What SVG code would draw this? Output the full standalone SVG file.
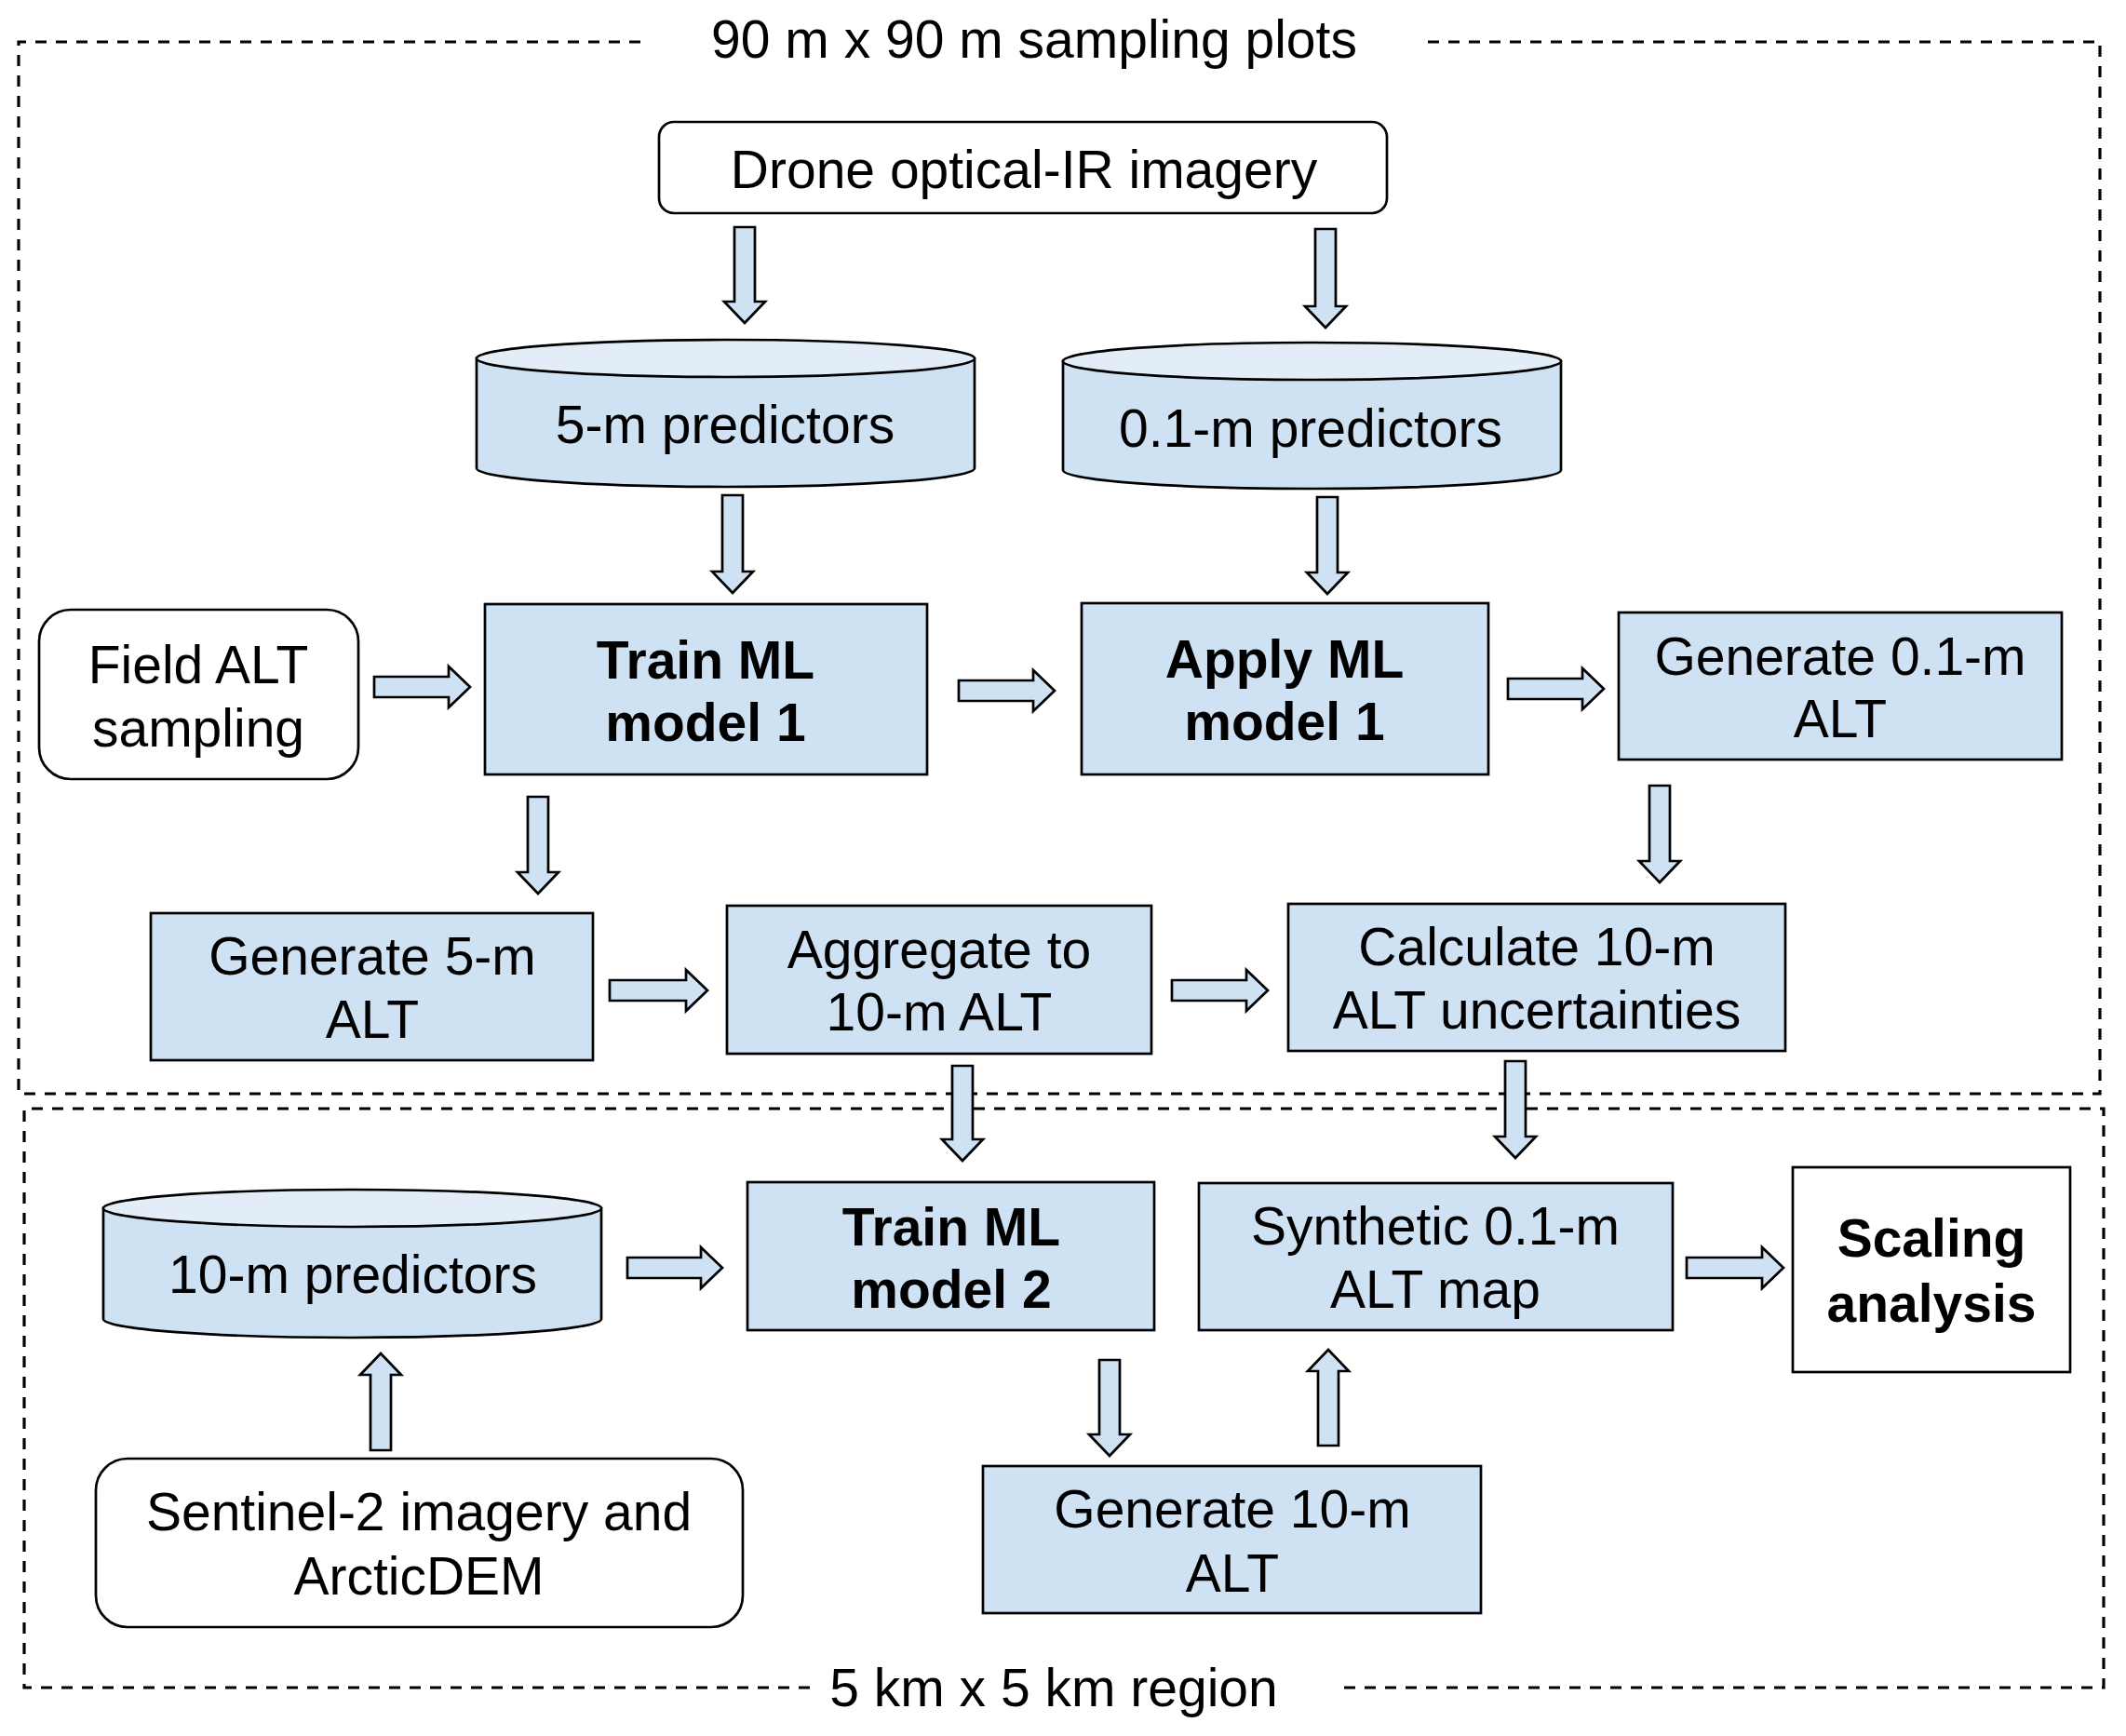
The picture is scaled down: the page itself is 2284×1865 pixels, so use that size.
<svg xmlns="http://www.w3.org/2000/svg" width="2284" height="1865" viewBox="0 0 2284 1865">
<style>
text{font-family:"Liberation Sans",Arial,sans-serif;font-size:57px;fill:#000;text-anchor:middle}
.b{font-weight:bold}
.box{fill:#cfe2f3;stroke:#000;stroke-width:2.7}
.wbox{fill:#fff;stroke:#000;stroke-width:2.7}
.top{fill:#e2edf8;stroke:#000;stroke-width:2.7}
.arr{fill:#cfe2f3;stroke:#000;stroke-width:2.7;stroke-linejoin:miter}
.dash{fill:none;stroke:#000;stroke-width:3.2;stroke-dasharray:12 10}
</style>
<rect width="2284" height="1865" fill="#fff"/>
<g id="regions">
<path class="dash" d="M688,45 L20,45 L20,1175 L2256,1175 L2256,45 L1530,45"/>
<path class="dash" d="M870,1813 L26,1813 L26,1191 L2260,1191 L2260,1813 L1437,1813"/>
<text x="1111" y="62">90 m x 90 m sampling plots</text>
<text x="1132" y="1833">5 km x 5 km region</text>
</g>
<g id="drone">
<rect class="wbox" x="708" y="131" width="782" height="98" rx="16"/>
<text x="1100" y="202">Drone optical-IR imagery</text>
</g>
<g id="pred5">
<path class="box" d="M512,385 L512,503 A267.5,20 0 0 0 1047,503 L1047,385 Z"/>
<ellipse class="top" cx="779.5" cy="385" rx="267.5" ry="20"/>
<text x="779" y="476">5-m predictors</text>
</g>
<g id="pred01">
<path class="box" d="M1142,388 L1142,505 A267.5,20 0 0 0 1677,505 L1677,388 Z"/>
<ellipse class="top" cx="1409.5" cy="388" rx="267.5" ry="20"/>
<text x="1408" y="480">0.1-m predictors</text>
</g>
<g id="field">
<rect class="wbox" x="42" y="655" width="343" height="182" rx="34"/>
<text x="213" y="734">Field ALT</text>
<text x="213" y="802">sampling</text>
</g>
<g id="train1">
<rect class="box" x="521" y="649" width="475" height="183"/>
<text class="b" x="758" y="729">Train ML</text>
<text class="b" x="758" y="796">model 1</text>
</g>
<g id="apply1">
<rect class="box" x="1162" y="648" width="437" height="184"/>
<text class="b" x="1380" y="728">Apply ML</text>
<text class="b" x="1380" y="795">model 1</text>
</g>
<g id="gen01">
<rect class="box" x="1739" y="658" width="476" height="158"/>
<text x="1977" y="725">Generate 0.1-m</text>
<text x="1977" y="792">ALT</text>
</g>
<g id="gen5">
<rect class="box" x="162" y="981" width="475" height="158"/>
<text x="400" y="1047">Generate 5-m</text>
<text x="400" y="1115">ALT</text>
</g>
<g id="aggregate">
<rect class="box" x="781" y="973" width="456" height="159"/>
<text x="1009" y="1040">Aggregate to</text>
<text x="1009" y="1107">10-m ALT</text>
</g>
<g id="calculate">
<rect class="box" x="1384" y="971" width="534" height="158"/>
<text x="1651" y="1037">Calculate 10-m</text>
<text x="1651" y="1105">ALT uncertainties</text>
</g>
<g id="pred10">
<path class="box" d="M111,1298 L111,1417 A267.5,20 0 0 0 646,1417 L646,1298 Z"/>
<ellipse class="top" cx="378.5" cy="1298" rx="267.5" ry="20"/>
<text x="379" y="1389">10-m predictors</text>
</g>
<g id="train2">
<rect class="box" x="803" y="1270" width="437" height="159"/>
<text class="b" x="1022" y="1338">Train ML</text>
<text class="b" x="1022" y="1405">model 2</text>
</g>
<g id="synthetic">
<rect class="box" x="1288" y="1271" width="509" height="158"/>
<text x="1542" y="1337">Synthetic 0.1-m</text>
<text x="1542" y="1405">ALT map</text>
</g>
<g id="scaling">
<rect class="wbox" x="1926" y="1254" width="298" height="220"/>
<text class="b" x="2075" y="1350">Scaling</text>
<text class="b" x="2075" y="1420">analysis</text>
</g>
<g id="sentinel">
<rect class="wbox" x="103" y="1567" width="695" height="181" rx="34"/>
<text x="450" y="1644">Sentinel-2 imagery and</text>
<text x="450" y="1713">ArcticDEM</text>
</g>
<g id="gen10">
<rect class="box" x="1056" y="1575" width="535" height="158"/>
<text x="1324" y="1641">Generate 10-m</text>
<text x="1324" y="1710">ALT</text>
</g>
<g id="connectors">
<polygon class="arr" points="789,244 811,244 811,324 822,324 800,347 778,324 789,324"/>
<polygon class="arr" points="1413,246 1435,246 1435,329 1446,329 1424,352 1402,329 1413,329"/>
<polygon class="arr" points="776,532 798,532 798,614 809,614 787,637 765,614 776,614"/>
<polygon class="arr" points="1415,534 1437,534 1437,615 1448,615 1426,638 1404,615 1415,615"/>
<polygon class="arr" points="567,856 589,856 589,937 600,937 578,960 556,937 567,937"/>
<polygon class="arr" points="1772,844 1794,844 1794,925 1805,925 1783,948 1761,925 1772,925"/>
<polygon class="arr" points="1023,1145 1045,1145 1045,1224 1056,1224 1034,1247 1012,1224 1023,1224"/>
<polygon class="arr" points="1617,1140 1639,1140 1639,1221 1650,1221 1628,1244 1606,1221 1617,1221"/>
<polygon class="arr" points="1181,1461 1203,1461 1203,1541 1214,1541 1192,1564 1170,1541 1181,1541"/>
<polygon class="arr" points="398,1558 420,1558 420,1477 431,1477 409,1454 387,1477 398,1477"/>
<polygon class="arr" points="1416,1553 1438,1553 1438,1473 1449,1473 1427,1450 1405,1473 1416,1473"/>
<polygon class="arr" points="402,727 482,727 482,716 505,738 482,760 482,749 402,749"/>
<polygon class="arr" points="1030,731 1110,731 1110,720 1133,742 1110,764 1110,753 1030,753"/>
<polygon class="arr" points="1620,729 1700,729 1700,718 1723,740 1700,762 1700,751 1620,751"/>
<polygon class="arr" points="655,1053 737,1053 737,1042 760,1064 737,1086 737,1075 655,1075"/>
<polygon class="arr" points="1259,1053 1339,1053 1339,1042 1362,1064 1339,1086 1339,1075 1259,1075"/>
<polygon class="arr" points="674,1351 753,1351 753,1340 776,1362 753,1384 753,1373 674,1373"/>
<polygon class="arr" points="1812,1351 1893,1351 1893,1340 1916,1362 1893,1384 1893,1373 1812,1373"/>
</g>
</svg>
